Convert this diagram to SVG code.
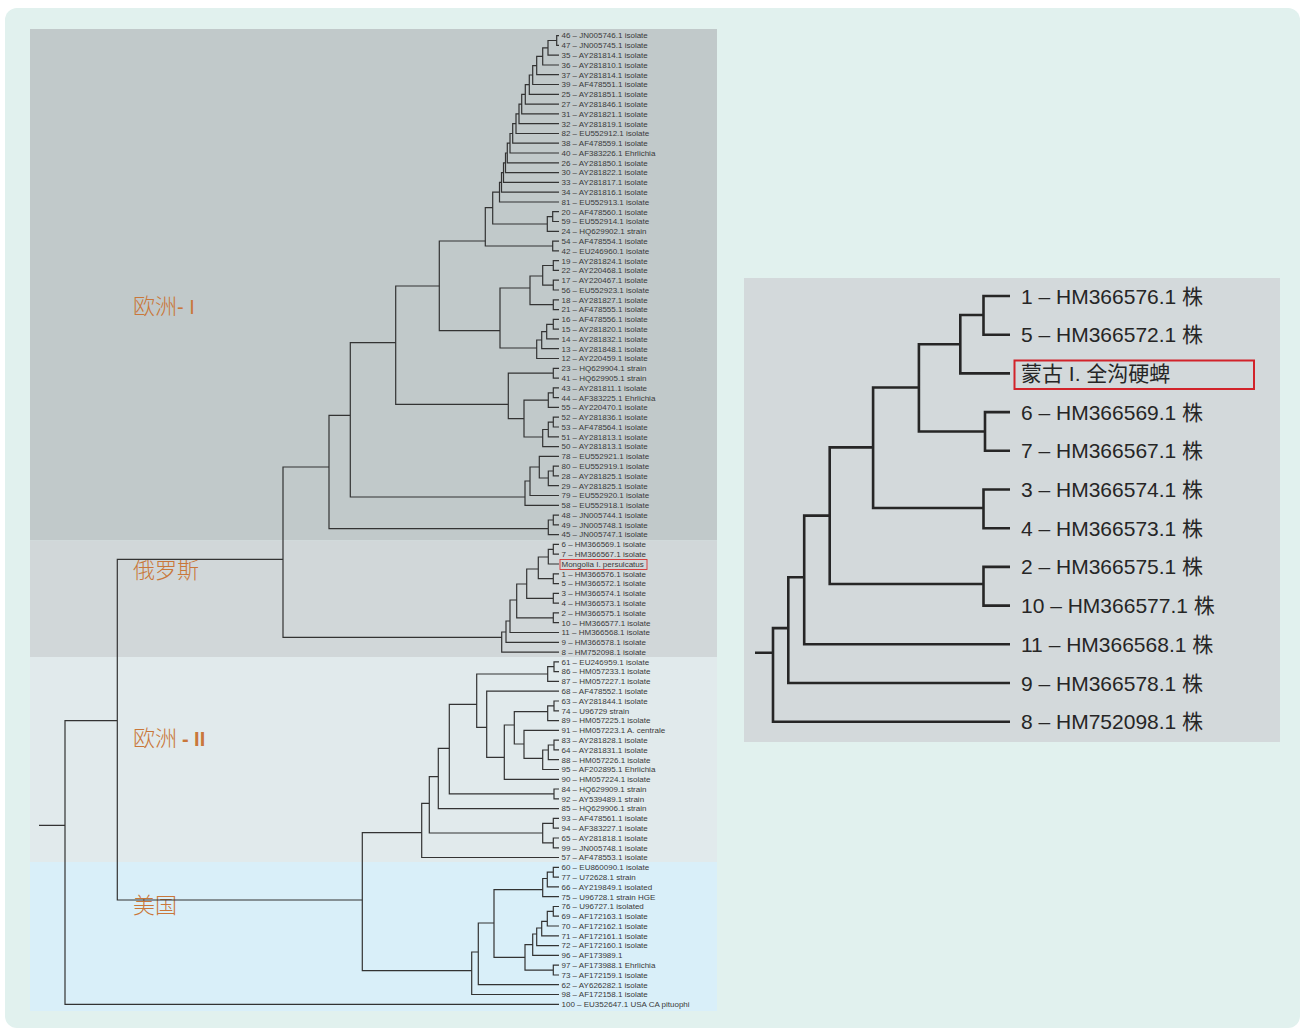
<svg xmlns="http://www.w3.org/2000/svg" width="1303" height="1028" viewBox="0 0 1303 1028">
<style>
.e{fill:none;stroke:#333;stroke-width:1.2}
.re{fill:none;stroke:#262626;stroke-width:2.6}
.lf{font-family:'Liberation Sans','Noto Sans CJK SC',sans-serif;font-size:8px;fill:#3a3a3a}
.rl{font-family:'Liberation Sans','Noto Sans CJK SC',sans-serif;font-size:21px;fill:#262626}
.cl{font-family:'Noto Sans CJK SC',sans-serif;font-size:22px;font-weight:300;fill:#c9773a}
.cb{font-family:'Liberation Sans',sans-serif;font-weight:bold;font-size:20px}
.cn{font-family:'Liberation Sans',sans-serif;font-size:20px}
</style>
<rect x="0" y="0" width="1303" height="1028" fill="#ffffff"/>
<rect x="5" y="8" width="1295" height="1020" rx="12" fill="#e1f1ee"/>
<g id="bands">
<rect x="30" y="29" width="687" height="511.5" fill="#c1c9ca"/>
<rect x="30" y="540.5" width="687" height="116.5" fill="#d1d7d9"/>
<rect x="30" y="657" width="687" height="205" fill="#e1eaec"/>
<rect x="30" y="862" width="687" height="149" fill="#d9eff9"/>
</g>
<g id="clade-labels">
<text id="lab-eu1" class="cl" x="133" y="314">欧洲<tspan class="cn">- I</tspan></text>
<text id="lab-ru" class="cl" x="133" y="578" font-size="23">俄罗斯</text>
<text id="lab-eu2" class="cl" x="133" y="746">欧洲 <tspan class="cb">- II</tspan></text>
<text id="lab-us" class="cl" x="133" y="913">美国</text>
</g>
<g id="edges">
<path class="e" d="M559 35.6H556.7V45.4H559M556.7 40.5H548V55.2H559M548 47.9H542.7V65H559M542.7 56.4H536.7V74.7H559M536.7 65.6H532.7V84.5H559M532.7 75H529.3V94.3H559M529.3 84.7H525.3V104.1H559M525.3 94.4H521.7V113.9H559M521.7 104.1H519V123.7H559M519 113.9H516V133.5H559M516 123.7H512.7V143.2H559M512.7 133.5H510V153H559M510 143.2H507.3V162.8H559M507.3 153H505.5V172.6H559M505.5 162.8H503.5V182.4H559M503.5 172.6H501.5V192.2H559M501.5 182.4H499.5V202H559"/>
<path class="e" d="M559 211.7H552.7V221.5H559M552.7 216.6H547.3V231.3H559M499.5 192.2H492.7V224H547.3M559 241.1H552.7V250.9H559M492.7 207.7H485.3V246H552.7"/>
<path class="e" d="M559 260.7H553.3V270.4H559M559 280.2H553.3V290H559M553.3 265.5H542.7V285.1H553.3M559 299.8H553.3V309.6H559M542.7 276H530V304.7H553.3M559 319.4H553.3V329.2H559M553.3 324.3H546.7V338.9H559M546.7 331.6H541.7V348.7H559M541.7 340H536.7V358.5H559M530 288H500V348H536.7M485.3 241H439.3V330.7H500"/>
<path class="e" d="M559 368.3H553.3V378.1H559M559 387.9H553.3V397.7H559M553.3 392.8H548.3V407.4H559M559 417.2H553.3V427H559M553.3 422.1H548.3V436.8H559M548.3 429.5H542.7V446.6H559M548.3 400.2H524V437H542.7M553.3 373.2H508.3V418.7H524M439.3 286H395.7V404.3H508.3"/>
<path class="e" d="M559 466.1H553.3V475.9H559M553.3 471H548.3V485.7H559M559 456.4H539.3V478H548.3M539.3 467H530V495.5H559M530 481H525V505.3H559M395.7 342.7H350.3V497H525M559 515.1H553.3V524.9H559M553.3 520H548.3V534.6H559M350.3 415.3H329V528.7H548.3"/>
<path class="e" d="M559 544.4H553.3V554.2H559M553.3 549.3H548.3V564H559M559 573.8H553.3V583.6H559M548.3 557H538.3V578.7H553.3M559 593.4H553.3V603.1H559M538.3 569H526.7V598.3H553.3M559 612.9H553.3V622.7H559M526.7 584H516.7V617.8H553.3M516.7 600H510V632.5H559M510 621H506V642.3H559M506 632H501.7V652.1H559M329 467H283V637.3H501.7"/>
<path class="e" d="M559 661.8H554V671.6H559M554 666.7H547.7V681.4H559M559 701H554V710.8H559M554 705.9H547.7V720.6H559M559 740.1H554V749.9H559M554 745H548.3V759.7H559M548.3 750H542.7V769.5H559M559 730.3H524V758.3H542.7M547.7 711.7H514.3V744H524M514.3 725H504.3V779.3H559M559 691.2H486.7V757.3H504.3M547.7 674H476.7V727.3H486.7M559 789H554V798.8H559M476.7 704.3H449.3V793.9H554M449.3 748.3H438.3V808.6H559M559 818.4H553.3V828.2H559M559 838H553.3V847.8H559M553.3 823.3H542.7V842.9H553.3M438.3 776.7H429.3V833H542.7M429.3 803.3H421.7V857.5H559"/>
<path class="e" d="M559 867.3H553.3V877.1H559M553.3 872.2H547.3V886.9H559M547.3 878.5H542.7V896.7H559M559 906.5H553.3V916.2H559M553.3 911.4H547.3V926H559M547.3 921.3H541.7V935.8H559M541.7 928H536.7V945.6H559M536.7 934H532.7V955.4H559M559 965.2H553.3V975H559M532.7 944.7H525V970.1H553.3M542.7 889.7H494V957.3H525M494 923H478.3V984.7H559M478.3 952H471.7V994.5H559M421.7 832.7H362.3V970.7H471.7"/>
<path class="e" d="M283 559.3H117.3V900H362.3M117.3 720.7H65V1004.3H559M39 825.3H65"/>
</g>
<g id="leaves">
<text class="lf" x="561.5" y="38.4">46 – JN005746.1 isolate</text>
<text class="lf" x="561.5" y="48.2">47 – JN005745.1 isolate</text>
<text class="lf" x="561.5" y="58.0">35 – AY281814.1 isolate</text>
<text class="lf" x="561.5" y="67.8">36 – AY281810.1 isolate</text>
<text class="lf" x="561.5" y="77.5">37 – AY281814.1 isolate</text>
<text class="lf" x="561.5" y="87.3">39 – AF478551.1 isolate</text>
<text class="lf" x="561.5" y="97.1">25 – AY281851.1 isolate</text>
<text class="lf" x="561.5" y="106.9">27 – AY281846.1 isolate</text>
<text class="lf" x="561.5" y="116.7">31 – AY281821.1 isolate</text>
<text class="lf" x="561.5" y="126.5">32 – AY281819.1 isolate</text>
<text class="lf" x="561.5" y="136.3">82 – EU552912.1 isolate</text>
<text class="lf" x="561.5" y="146.0">38 – AF478559.1 isolate</text>
<text class="lf" x="561.5" y="155.8">40 – AF383226.1 Ehrlichia</text>
<text class="lf" x="561.5" y="165.6">26 – AY281850.1 isolate</text>
<text class="lf" x="561.5" y="175.4">30 – AY281822.1 isolate</text>
<text class="lf" x="561.5" y="185.2">33 – AY281817.1 isolate</text>
<text class="lf" x="561.5" y="195.0">34 – AY281816.1 isolate</text>
<text class="lf" x="561.5" y="204.8">81 – EU552913.1 isolate</text>
<text class="lf" x="561.5" y="214.5">20 – AF478560.1 isolate</text>
<text class="lf" x="561.5" y="224.3">59 – EU552914.1 isolate</text>
<text class="lf" x="561.5" y="234.1">24 – HQ629902.1 strain</text>
<text class="lf" x="561.5" y="243.9">54 – AF478554.1 isolate</text>
<text class="lf" x="561.5" y="253.7">42 – EU246960.1 isolate</text>
<text class="lf" x="561.5" y="263.5">19 – AY281824.1 isolate</text>
<text class="lf" x="561.5" y="273.2">22 – AY220468.1 isolate</text>
<text class="lf" x="561.5" y="283.0">17 – AY220467.1 isolate</text>
<text class="lf" x="561.5" y="292.8">56 – EU552923.1 isolate</text>
<text class="lf" x="561.5" y="302.6">18 – AY281827.1 isolate</text>
<text class="lf" x="561.5" y="312.4">21 – AF478555.1 isolate</text>
<text class="lf" x="561.5" y="322.2">16 – AF478556.1 isolate</text>
<text class="lf" x="561.5" y="332.0">15 – AY281820.1 isolate</text>
<text class="lf" x="561.5" y="341.7">14 – AY281832.1 isolate</text>
<text class="lf" x="561.5" y="351.5">13 – AY281848.1 isolate</text>
<text class="lf" x="561.5" y="361.3">12 – AY220459.1 isolate</text>
<text class="lf" x="561.5" y="371.1">23 – HQ629904.1 strain</text>
<text class="lf" x="561.5" y="380.9">41 – HQ629905.1 strain</text>
<text class="lf" x="561.5" y="390.7">43 – AY281811.1 isolate</text>
<text class="lf" x="561.5" y="400.5">44 – AF383225.1 Ehrlichia</text>
<text class="lf" x="561.5" y="410.2">55 – AY220470.1 isolate</text>
<text class="lf" x="561.5" y="420.0">52 – AY281836.1 isolate</text>
<text class="lf" x="561.5" y="429.8">53 – AF478564.1 isolate</text>
<text class="lf" x="561.5" y="439.6">51 – AY281813.1 isolate</text>
<text class="lf" x="561.5" y="449.4">50 – AY281813.1 isolate</text>
<text class="lf" x="561.5" y="459.2">78 – EU552921.1 isolate</text>
<text class="lf" x="561.5" y="468.9">80 – EU552919.1 isolate</text>
<text class="lf" x="561.5" y="478.7">28 – AY281825.1 isolate</text>
<text class="lf" x="561.5" y="488.5">29 – AY281825.1 isolate</text>
<text class="lf" x="561.5" y="498.3">79 – EU552920.1 isolate</text>
<text class="lf" x="561.5" y="508.1">58 – EU552918.1 isolate</text>
<text class="lf" x="561.5" y="517.9">48 – JN005744.1 isolate</text>
<text class="lf" x="561.5" y="527.7">49 – JN005748.1 isolate</text>
<text class="lf" x="561.5" y="537.4">45 – JN005747.1 isolate</text>
<text class="lf" x="561.5" y="547.2">6 – HM366569.1 isolate</text>
<text class="lf" x="561.5" y="557.0">7 – HM366567.1 isolate</text>
<text class="lf" x="561.5" y="566.8">Mongolia I. persulcatus</text>
<text class="lf" x="561.5" y="576.6">1 – HM366576.1 isolate</text>
<text class="lf" x="561.5" y="586.4">5 – HM366572.1 isolate</text>
<text class="lf" x="561.5" y="596.2">3 – HM366574.1 isolate</text>
<text class="lf" x="561.5" y="605.9">4 – HM366573.1 isolate</text>
<text class="lf" x="561.5" y="615.7">2 – HM366575.1 isolate</text>
<text class="lf" x="561.5" y="625.5">10 – HM366577.1 isolate</text>
<text class="lf" x="561.5" y="635.3">11 – HM366568.1 isolate</text>
<text class="lf" x="561.5" y="645.1">9 – HM366578.1 isolate</text>
<text class="lf" x="561.5" y="654.9">8 – HM752098.1 isolate</text>
<text class="lf" x="561.5" y="664.6">61 – EU246959.1 isolate</text>
<text class="lf" x="561.5" y="674.4">86 – HM057233.1 isolate</text>
<text class="lf" x="561.5" y="684.2">87 – HM057227.1 isolate</text>
<text class="lf" x="561.5" y="694.0">68 – AF478552.1 isolate</text>
<text class="lf" x="561.5" y="703.8">63 – AY281844.1 isolate</text>
<text class="lf" x="561.5" y="713.6">74 – U96729 strain</text>
<text class="lf" x="561.5" y="723.4">89 – HM057225.1 isolate</text>
<text class="lf" x="561.5" y="733.1">91 – HM057223.1 A. centrale</text>
<text class="lf" x="561.5" y="742.9">83 – AY281828.1 isolate</text>
<text class="lf" x="561.5" y="752.7">64 – AY281831.1 isolate</text>
<text class="lf" x="561.5" y="762.5">88 – HM057226.1 isolate</text>
<text class="lf" x="561.5" y="772.3">95 – AF202895.1 Ehrlichia</text>
<text class="lf" x="561.5" y="782.1">90 – HM057224.1 isolate</text>
<text class="lf" x="561.5" y="791.8">84 – HQ629909.1 strain</text>
<text class="lf" x="561.5" y="801.6">92 – AY539489.1 strain</text>
<text class="lf" x="561.5" y="811.4">85 – HQ629906.1 strain</text>
<text class="lf" x="561.5" y="821.2">93 – AF478561.1 isolate</text>
<text class="lf" x="561.5" y="831.0">94 – AF383227.1 isolate</text>
<text class="lf" x="561.5" y="840.8">65 – AY281818.1 isolate</text>
<text class="lf" x="561.5" y="850.6">99 – JN005748.1 isolate</text>
<text class="lf" x="561.5" y="860.3">57 – AF478553.1 isolate</text>
<text class="lf" x="561.5" y="870.1">60 – EU860090.1 isolate</text>
<text class="lf" x="561.5" y="879.9">77 – U72628.1 strain</text>
<text class="lf" x="561.5" y="889.7">66 – AY219849.1 isolated</text>
<text class="lf" x="561.5" y="899.5">75 – U96728.1 strain HGE</text>
<text class="lf" x="561.5" y="909.3">76 – U96727.1 isolated</text>
<text class="lf" x="561.5" y="919.0">69 – AF172163.1 isolate</text>
<text class="lf" x="561.5" y="928.8">70 – AF172162.1 isolate</text>
<text class="lf" x="561.5" y="938.6">71 – AF172161.1 isolate</text>
<text class="lf" x="561.5" y="948.4">72 – AF172160.1 isolate</text>
<text class="lf" x="561.5" y="958.2">96 – AF173989.1</text>
<text class="lf" x="561.5" y="968.0">97 – AF173988.1 Ehrlichia</text>
<text class="lf" x="561.5" y="977.8">73 – AF172159.1 isolate</text>
<text class="lf" x="561.5" y="987.5">62 – AY626282.1 isolate</text>
<text class="lf" x="561.5" y="997.3">98 – AF172158.1 isolate</text>
<text class="lf" x="561.5" y="1007.1">100 – EU352647.1 USA CA pituophi</text>
<rect x="560" y="559.5" width="87" height="10" fill="none" stroke="#d9312f" stroke-width="0.9"/>
</g>
<g id="detail-panel">
<rect x="744" y="278" width="536" height="464" fill="#d3d9db"/>
<g id="detail-edges">
<path class="re" d="M1010 296H983.5V334.7H1010M983.5 315H960.3V373.4H1010M1010 412.1H985V450.8H1010M960.3 344.3H918.9V431.5H985M1010 489.5H983.5V528.2H1010M918.9 387.5H873.1V508H983.5M1010 566.9H983.5V605.6H1010M873.1 447.4H829.7V584H983.5M829.7 515.6H804.2V644.3H1010M804.2 577.2H788.3V683H1010M788.3 628.1H773V721.7H1010M755 652.8H773"/>
</g>
<g id="detail-leaves">
<text class="rl" x="1021" y="303.5">1 – HM366576.1 株</text>
<text class="rl" x="1021" y="342.2">5 – HM366572.1 株</text>
<text class="rl" x="1021" y="381" fill="#444">蒙古 I. 全沟硬蜱</text>
<text class="rl" x="1021" y="419.6">6 – HM366569.1 株</text>
<text class="rl" x="1021" y="458.3">7 – HM366567.1 株</text>
<text class="rl" x="1021" y="497">3 – HM366574.1 株</text>
<text class="rl" x="1021" y="535.7">4 – HM366573.1 株</text>
<text class="rl" x="1021" y="574.4">2 – HM366575.1 株</text>
<text class="rl" x="1021" y="613.1">10 – HM366577.1 株</text>
<text class="rl" x="1021" y="651.8">11 – HM366568.1 株</text>
<text class="rl" x="1021" y="690.5">9 – HM366578.1 株</text>
<text class="rl" x="1021" y="729.2">8 – HM752098.1 株</text>
<rect x="1014.5" y="360.5" width="239.5" height="28.5" fill="none" stroke="#d2232a" stroke-width="2"/>
</g>
</g>
</svg>
